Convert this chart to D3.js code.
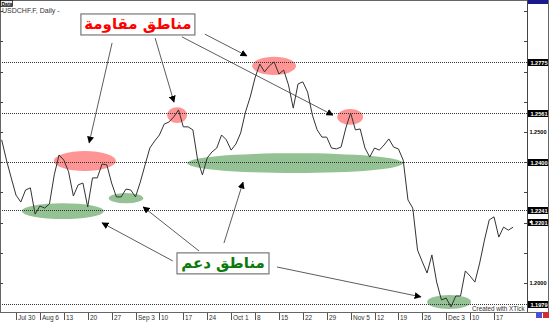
<!DOCTYPE html>
<html>
<head>
<meta charset="utf-8">
<script src="https://cdn.jsdelivr.net/npm/d3@7"></script>
<style>
  body { margin: 0; background: #fff; }
  svg { display: block; }
  .lbl { font-family: "Liberation Sans", Arial, sans-serif; }
</style>
</head>
<body>
<div id="chart"></div>
<script>
// USDCHF daily closes, Jul 25 - Dec 21 2007
var closes = [
  1.2474, 1.2407, 1.2348, 1.2291, 1.2268, 1.2308, 1.2315, 1.2228, 1.2255, 1.2248,
  1.2262, 1.2358, 1.2424, 1.2407, 1.2368, 1.2288, 1.2325, 1.2331, 1.2252, 1.2348,
  1.2348, 1.2394, 1.2391, 1.2331, 1.2285, 1.2285, 1.2311, 1.2308, 1.2285, 1.2334,
  1.2391, 1.2447, 1.2470, 1.2490, 1.2526, 1.2533, 1.2550, 1.2573, 1.2517, 1.2517,
  1.2507, 1.2407, 1.2358, 1.2414, 1.2434, 1.2447, 1.2490, 1.2474, 1.2440, 1.2460,
  1.2497, 1.2566, 1.2616, 1.2679, 1.2725, 1.2699, 1.2719, 1.2732, 1.2692, 1.2705,
  1.2656, 1.2579, 1.2659, 1.2666, 1.2632, 1.2556, 1.2507, 1.2483, 1.2483, 1.2447,
  1.2444, 1.2450, 1.2513, 1.2563, 1.2507, 1.2510, 1.2447, 1.2417, 1.2447, 1.2440,
  1.2457, 1.2477, 1.2450, 1.2444, 1.2407, 1.2275, 1.2248, 1.2109, 1.2070, 1.2033,
  1.2093, 1.2003, 1.1944, 1.1950, 1.1921, 1.1957, 1.1957, 1.2040, 1.2023, 1.2003,
  1.2066, 1.2142, 1.2209, 1.2219, 1.2152, 1.2185, 1.2175, 1.2185
];

var xTickLabels = ["Jul 30","Aug 6","13","20","27","Sep 3","10","17","24","Oct 1",
  "8","15","22","29","Nov 5","12","19","26","Dec 3","10","17"];

// horizontal levels: where they sit, and what the tag says
var levelPrices = [1.2732, 1.2563, 1.2401, 1.2242, 1.1930];
var levelLabels = ["1.2775", "1.2561", "1.2400", "1.2241", "1.1979"];
var currentPrice = 1.2202, currentLabel = "1.2201";
var axisLabels = [1.25, 1.20];

// zones: [day index, price, half width in days, half height in price]
var resistZones = [[17.4, 1.2404, 6.5, 0.0033], [36.7, 1.2556, 2.1, 0.0026],
                   [57.0, 1.2719, 4.6, 0.0030], [72.9, 1.2550, 2.7, 0.0026]];
var supportZones = [[12.8, 1.2238, 8.6, 0.0026], [26.0, 1.2281, 3.6, 0.0017],
                    [61.4, 1.2397, 22.6, 0.0033], [93.6, 1.1937, 4.6, 0.0023]];

// arrows: [from index, from price, to index, to price]
var resistArrows = [[23.1, 1.2795, 18.3, 1.2464], [32.1, 1.2811, 36.05, 1.2599],
                    [42.5, 1.2824, 51.3, 1.2752], [37.7, 1.2815, 69.3, 1.2556]];
var supportArrows = [[35.8, 1.2073, 21.0, 1.2199], [41.3, 1.2106, 29.6, 1.2252],
                     [46.5, 1.2132, 50.5, 1.2334], [57.6, 1.2053, 87.7, 1.1954]];

var resistText = "مناطق مقاومة", supportText = "مناطق دعم";
var resistAnchor = [28.5, 1.2856], supportAnchor = [46.3, 1.2065];

var width = 552, height = 323;
var plotW = 527, plotH = 312, panelR = 548;

var days = d3.timeDay.range(new Date(2007, 6, 25), new Date(2007, 11, 22))
  .filter(function(d) { return d.getDay() % 6 !== 0; });
var mondays = [];
days.forEach(function(d, i) { if (d.getDay() === 1) mondays.push(i); });

var x = d3.scaleLinear().domain([-0.35, 109.9]).range([0, plotW]);
var y = d3.scaleLinear().domain([1.1904, 1.2937]).range([plotH, 0]);

var svg = d3.select("#chart").append("svg")
    .attr("width", width)
    .attr("height", height);

svg.append("defs").append("clipPath").attr("id", "plotclip")
  .append("rect").attr("x", 0).attr("y", 0).attr("width", plotW).attr("height", plotH);

svg.select("defs").append("marker")
    .attr("id", "head")
    .attr("viewBox", "0 0 10 10")
    .attr("refX", 9).attr("refY", 5)
    .attr("markerWidth", 7).attr("markerHeight", 7)
    .attr("markerUnits", "userSpaceOnUse")
    .attr("orient", "auto")
  .append("path").attr("d", "M0,0L10,5L0,10z").attr("fill", "#000");

var g = svg.append("g").attr("clip-path", "url(#plotclip)");

// zones
function zone(sel, data, fill, op) {
  sel.selectAll(null).data(data).enter().append("ellipse")
    .attr("cx", function(d) { return x(d[0]); })
    .attr("cy", function(d) { return y(d[1]); })
    .attr("rx", function(d) { return x(d[0] + d[2]) - x(d[0]); })
    .attr("ry", function(d) { return y(d[1] - d[3]) - y(d[1]); })
    .attr("fill", fill).attr("opacity", op);
}
zone(g, resistZones, "#ff6666", 0.7);
zone(g, supportZones, "#4c9a4c", 0.6);

// level lines
g.selectAll(".level").data(levelPrices).enter().append("line")
  .attr("class", "level")
  .attr("x1", 0).attr("x2", plotW)
  .attr("y1", function(d) { return Math.round(y(d)) + 0.5; })
  .attr("y2", function(d) { return Math.round(y(d)) + 0.5; })
  .attr("stroke", "#333").attr("stroke-width", 1)
  .attr("stroke-dasharray", "1,1");

// price line
var line = d3.line()
  .x(function(d, i) { return x(i); })
  .y(function(d) { return y(d); });
g.append("path").datum(closes)
  .attr("d", line)
  .attr("fill", "none")
  .attr("stroke", "#333")
  .attr("stroke-width", 1);

// "Created with XTick"
svg.append("rect").attr("x", 469).attr("y", 305).attr("width", plotW - 469).attr("height", 7).attr("fill", "#fff");
svg.append("text").attr("class", "lbl").attr("x", 472).attr("y", 311)
  .attr("font-size", 6.3).attr("fill", "#333").text("Created with XTick");

// frame
svg.append("rect").attr("x", 0.5).attr("y", 0.5).attr("width", panelR).attr("height", plotH)
  .attr("fill", "none").attr("stroke", "#666");
svg.append("line").attr("x1", plotW + 0.5).attr("x2", plotW + 0.5).attr("y1", 0).attr("y2", plotH)
  .attr("stroke", "#444");

// price ticks, both sides
var pticks = y.ticks(10);
svg.selectAll(".rtick").data(pticks).enter().append("line")
  .attr("x1", plotW - 3).attr("x2", plotW)
  .attr("y1", function(d) { return Math.round(y(d)) + 0.5; })
  .attr("y2", function(d) { return Math.round(y(d)) + 0.5; })
  .attr("stroke", "#444");
svg.selectAll(".ltick").data(pticks).enter().append("line")
  .attr("x1", 0).attr("x2", 3)
  .attr("y1", function(d) { return Math.round(y(d)) + 0.5; })
  .attr("y2", function(d) { return Math.round(y(d)) + 0.5; })
  .attr("stroke", "#444");

svg.selectAll(".plab").data(axisLabels).enter().append("text")
  .attr("class", "lbl")
  .attr("x", 538).attr("y", function(d) { return y(d) + 2; })
  .attr("text-anchor", "middle")
  .attr("font-size", 5.6).attr("font-weight", "bold")
  .text(function(d) { return d.toFixed(4); });

// level tags
function tag(price, text) {
  var ty = Math.round(y(price));
  svg.append("rect").attr("x", plotW + 1).attr("y", ty - 3).attr("width", panelR - plotW - 1).attr("height", 7)
    .attr("fill", "#000");
  svg.append("text").attr("class", "lbl").attr("x", 539).attr("y", ty + 2.5)
    .attr("text-anchor", "middle").attr("font-size", 5.6).attr("font-weight", "bold")
    .attr("fill", "#fff").text(text);
}
levelPrices.forEach(function(p, i) { tag(p, levelLabels[i]); });
tag(currentPrice, currentLabel);
svg.append("path")
  .attr("d", "M" + (plotW + 2) + "," + Math.round(y(currentPrice)) + "l3,-2v4z")
  .attr("fill", "#fff");

// top corner tag
svg.append("rect").attr("x", plotW + 1).attr("y", 0).attr("width", panelR - plotW - 1).attr("height", 4)
  .attr("fill", "#1a1a8c");

// x axis
svg.selectAll(".xtick").data(mondays).enter().append("line")
  .attr("x1", function(d) { return Math.round(x(d)) + 0.5; })
  .attr("x2", function(d) { return Math.round(x(d)) + 0.5; })
  .attr("y1", plotH + 1).attr("y2", plotH + 8)
  .attr("stroke", "#555");
svg.selectAll(".xlab").data(mondays).enter().append("text")
  .attr("class", "lbl")
  .attr("x", function(d) { return Math.round(x(d)) + 2; })
  .attr("y", plotH + 8)
  .attr("font-size", 6.5).attr("fill", "#333")
  .text(function(d, i) { return xTickLabels[i]; });

// zoom buttons
svg.append("rect").attr("x", 536).attr("y", 312).attr("width", 6).attr("height", 6).attr("fill", "#5050d0");
svg.append("rect").attr("x", 543).attr("y", 312).attr("width", 6).attr("height", 6).attr("fill", "#d03030");

// title bits
svg.append("rect").attr("x", 0.5).attr("y", 0.5).attr("width", 12).attr("height", 6)
  .attr("fill", "#eee").attr("stroke", "#000").attr("stroke-width", 0.7);
svg.append("text").attr("class", "lbl").attr("x", 1.5).attr("y", 5.5)
  .attr("font-size", 5).attr("font-weight", "bold").text("Data");
svg.append("text").attr("class", "lbl").attr("x", 2).attr("y", 12.5)
  .attr("font-size", 7).attr("fill", "#333").text("USDCHF.F, Daily -");

// arrows
svg.selectAll(".arrow").data(resistArrows.concat(supportArrows)).enter().append("line")
  .attr("x1", function(d) { return x(d[0]); })
  .attr("y1", function(d) { return y(d[1]); })
  .attr("x2", function(d) { return x(d[2]); })
  .attr("y2", function(d) { return y(d[3]); })
  .attr("stroke", "#333").attr("stroke-width", 0.8)
  .attr("marker-end", "url(#head)");

// label boxes
function labelBox(anchor, text, w, color) {
  var cx = x(anchor[0]), cy = y(anchor[1]);
  svg.append("rect").attr("x", cx - w / 2).attr("y", cy - 10.5).attr("width", w).attr("height", 21)
    .attr("fill", "#fff").attr("stroke", "#777").attr("stroke-width", 1.2);
  svg.append("text").attr("x", cx).attr("y", cy + 5)
    .attr("text-anchor", "middle")
    .attr("font-family", "DejaVu Sans")
    .attr("font-size", 15).attr("font-weight", "bold")
    .attr("fill", color).text(text);
}
labelBox(resistAnchor, resistText, 114, "#f00");
labelBox(supportAnchor, supportText, 92, "#0a7a0a");
</script>
</body>
</html>
